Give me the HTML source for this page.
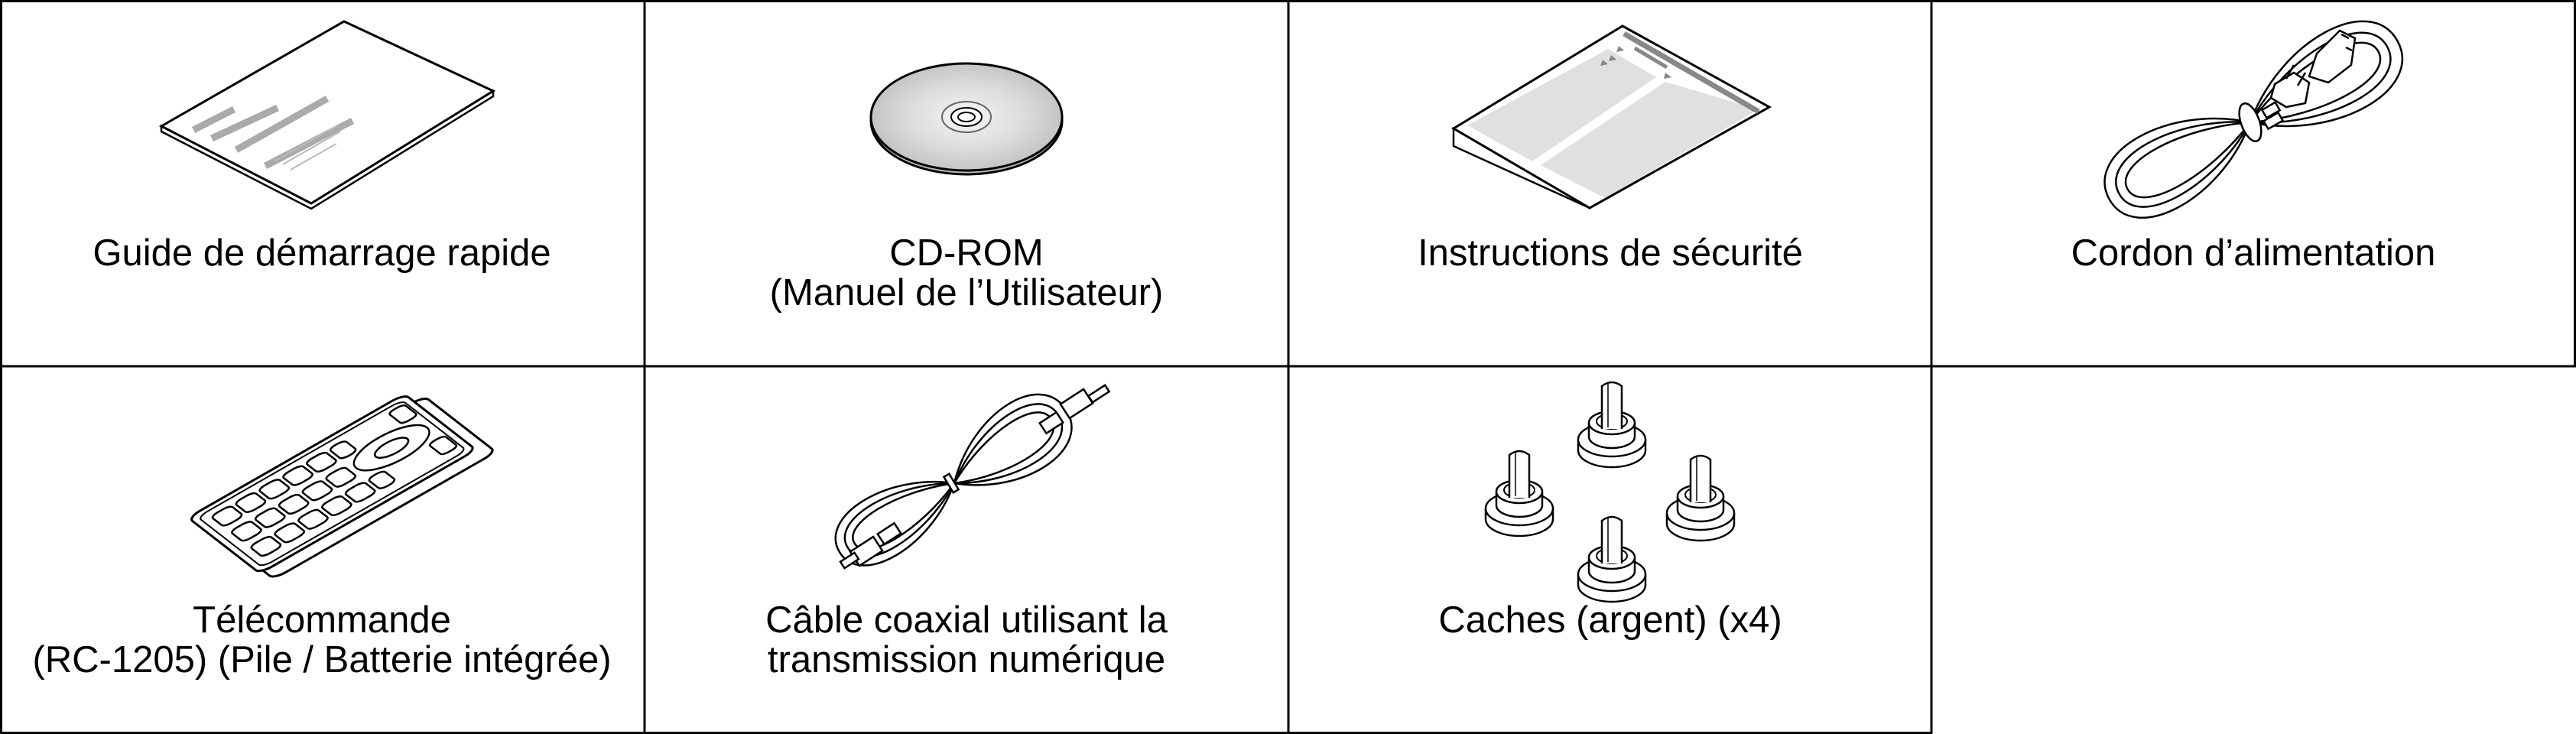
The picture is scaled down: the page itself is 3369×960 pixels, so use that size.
<!DOCTYPE html>
<html><head><meta charset="utf-8"><style>
html,body{margin:0;padding:0;background:#fff}
svg{display:block}
text{font-family:"Liberation Sans",Arial,sans-serif;font-size:49px;fill:#000}
</style></head><body>
<svg width="3369" height="960" viewBox="0 0 3369 960" xmlns="http://www.w3.org/2000/svg">
<defs>
<radialGradient id="cd" cx="50%" cy="50%" r="50%">
<stop offset="0" stop-color="#f4f4f4"/><stop offset="0.6" stop-color="#dcdcdc"/><stop offset="1" stop-color="#c4c4c4"/>
</radialGradient>
<g id="cache">
<path d="M-44,18 L-44,32 A44,22 0 0 0 44,32 L44,18" fill="#fff" stroke="#000" stroke-width="2.5"/>
<ellipse cx="0" cy="18" rx="44" ry="22" fill="#fff" stroke="#000" stroke-width="2.5"/>
<path d="M-30,-4 L-30,14 A30,15 0 0 0 30,14 L30,-4" fill="#fff" stroke="#000" stroke-width="2.5"/>
<ellipse cx="0" cy="-4" rx="30" ry="15" fill="#fff" stroke="#000" stroke-width="2.5"/>
<ellipse cx="0" cy="-6" rx="20" ry="10" fill="#fff" stroke="#000" stroke-width="2"/>
<path d="M-13,4 L-13,-52 Q0,-62 13,-52 L13,4" fill="#fff" stroke="#000" stroke-width="2.5"/>
<line x1="-5" y1="-55" x2="-5" y2="2" stroke="#000" stroke-width="1.5"/>
</g>
<g id="cloop" fill="none" stroke="#000" stroke-width="2.5">
<path d="M0,0 C-40,-38 -100,-36 -100,0 C-100,36 -40,38 0,0" vector-effect="non-scaling-stroke"/>
<path d="M0,0 C-40,-28 -93,-28 -93,0 C-93,28 -40,28 0,0" vector-effect="non-scaling-stroke"/>
<path d="M0,0 C-40,-20 -87,-20 -87,0 C-87,20 -40,20 0,0" vector-effect="non-scaling-stroke"/>
</g>
</defs>
<rect x="0" y="0" width="3369" height="960" fill="#fff"/>
<!-- grid -->
<g stroke="#000" stroke-width="3" fill="none">
<line x1="1.5" y1="0" x2="1.5" y2="960"/>
<line x1="0" y1="1.5" x2="3369" y2="1.5"/>
<line x1="0" y1="479" x2="3369" y2="479"/>
<line x1="0" y1="958.5" x2="2527" y2="958.5"/>
<line x1="843" y1="0" x2="843" y2="960"/>
<line x1="1685" y1="0" x2="1685" y2="960"/>
<line x1="2526" y1="0" x2="2526" y2="960"/>
<line x1="3367.5" y1="0" x2="3367.5" y2="479"/>
</g>

<!-- booklet -->
<polygon points="211,172 407,273 645,126 645,119 407,266 211,165" fill="#fff" stroke="#000" stroke-width="2.5"/>
<polygon points="450,28 645,119 407,266 211,165" fill="#fff" stroke="#000" stroke-width="3"/>
<g stroke="#aaa" stroke-width="9">
<line x1="253" y1="170" x2="306" y2="143"/>
<line x1="277" y1="181" x2="363" y2="141"/>
<line x1="309" y1="196" x2="428" y2="129"/>
<line x1="347" y1="217" x2="461" y2="158"/>
</g>
<g stroke="#bbb" stroke-width="2">
<line x1="360" y1="210" x2="440" y2="165"/>
<line x1="370" y1="215" x2="445" y2="172"/>
<line x1="380" y1="222" x2="440" y2="188"/>
</g>

<!-- CD -->
<ellipse cx="1264" cy="158" rx="125" ry="70" fill="#b8b8b8" stroke="#000" stroke-width="3"/>
<ellipse cx="1264" cy="153" rx="125" ry="70" fill="url(#cd)" stroke="#000" stroke-width="3"/>
<ellipse cx="1264" cy="153" rx="32" ry="20" fill="#eee" stroke="#666" stroke-width="2"/>
<ellipse cx="1264" cy="153" rx="20" ry="12" fill="#fff" stroke="#000" stroke-width="2"/>
<ellipse cx="1264" cy="153" rx="11" ry="6" fill="#fff" stroke="#000" stroke-width="2"/>

<!-- safety sheets -->
<polygon points="1901,168 1901,191 2079,272" fill="#fff" stroke="#000" stroke-width="2.5"/>
<polygon points="2122,34 2314,140 2079,272 1901,168" fill="#fff" stroke="#000" stroke-width="3"/>
<polygon points="2103,64 2166,101 2004,211 1919,164" fill="#e0e0e0"/>
<polygon points="2178,107 2300,143 2099,259 2015,216" fill="#e0e0e0"/>
<line x1="2124" y1="44" x2="2300" y2="146" stroke="#888" stroke-width="7"/>
<line x1="2138" y1="63" x2="2180" y2="88" stroke="#888" stroke-width="5"/>
<g fill="#888"><polygon points="2107,72 2114,78 2104,80"/><polygon points="2096,78 2103,84 2093,86"/><polygon points="2117,60 2124,66 2114,68"/><polygon points="2178,95 2186,101 2176,103"/></g>

<!-- power cord -->
<use href="#cloop" transform="translate(2943,160) rotate(-28.5) scale(2.1,1.9)"/>
<use href="#cloop" transform="translate(2943,160) rotate(151) scale(2.2,2.0)"/>
<g fill="#fff" stroke="#000" stroke-width="2.5">
<ellipse cx="2943" cy="160" rx="12" ry="26" transform="rotate(-20 2943 160)"/>
<path d="M3030,70 L3060,40 L3080,50 L3075,85 L3045,108 L3020,100 Z"/>
<path d="M3062,45 L3072,50 M3068,62 L3076,66" fill="none"/>
<path d="M2975,110 L3000,95 L3020,108 L3015,135 L2990,140 L2970,128 Z"/>
<line x1="2990" y1="103" x2="3000" y2="85"/>
<line x1="3005" y1="112" x2="3015" y2="95"/>
<rect x="2960" y="138" width="20" height="12" transform="rotate(-30 2970 144)"/>
<rect x="2962" y="152" width="22" height="12" transform="rotate(-30 2973 158)"/>
</g>

<!-- remote -->
<g transform="matrix(257,-147,94,73,246,677)">
<rect x="0.02" y="0.14" width="1.13" height="1.0" rx="0.06" fill="#fff" stroke="#000" stroke-width="3" vector-effect="non-scaling-stroke"/>
<rect x="0" y="0" width="1.1" height="1.0" rx="0.06" fill="#fff" stroke="#000" stroke-width="3" vector-effect="non-scaling-stroke"/>
<rect x="0.03" y="0.05" width="1.04" height="0.9" rx="0.05" fill="none" stroke="#000" stroke-width="2" vector-effect="non-scaling-stroke"/>
<g fill="#fff" stroke="#000" stroke-width="2.5">
<rect x="0.07" y="0.12" width="0.1" height="0.19" rx="0.035" vector-effect="non-scaling-stroke"/>
<rect x="0.07" y="0.39" width="0.1" height="0.19" rx="0.035" vector-effect="non-scaling-stroke"/>
<rect x="0.07" y="0.66" width="0.1" height="0.19" rx="0.035" vector-effect="non-scaling-stroke"/>
<rect x="0.19" y="0.12" width="0.1" height="0.19" rx="0.035" vector-effect="non-scaling-stroke"/>
<rect x="0.19" y="0.39" width="0.1" height="0.19" rx="0.035" vector-effect="non-scaling-stroke"/>
<rect x="0.19" y="0.66" width="0.1" height="0.19" rx="0.035" vector-effect="non-scaling-stroke"/>
<rect x="0.31" y="0.12" width="0.1" height="0.19" rx="0.035" vector-effect="non-scaling-stroke"/>
<rect x="0.31" y="0.39" width="0.1" height="0.19" rx="0.035" vector-effect="non-scaling-stroke"/>
<rect x="0.31" y="0.66" width="0.1" height="0.19" rx="0.035" vector-effect="non-scaling-stroke"/>
<rect x="0.43" y="0.12" width="0.1" height="0.19" rx="0.035" vector-effect="non-scaling-stroke"/>
<rect x="0.43" y="0.39" width="0.1" height="0.19" rx="0.035" vector-effect="non-scaling-stroke"/>
<rect x="0.43" y="0.66" width="0.1" height="0.19" rx="0.035" vector-effect="non-scaling-stroke"/>
<rect x="0.55" y="0.12" width="0.1" height="0.19" rx="0.035" vector-effect="non-scaling-stroke"/>
<rect x="0.55" y="0.39" width="0.1" height="0.19" rx="0.035" vector-effect="non-scaling-stroke"/>
<rect x="0.55" y="0.66" width="0.1" height="0.19" rx="0.035" vector-effect="non-scaling-stroke"/>
<rect x="0.67" y="0.12" width="0.08" height="0.19" rx="0.035" vector-effect="non-scaling-stroke"/>
<rect x="0.67" y="0.66" width="0.08" height="0.19" rx="0.035" vector-effect="non-scaling-stroke"/>
<circle cx="0.86" cy="0.48" r="0.18" vector-effect="non-scaling-stroke"/>
<circle cx="0.86" cy="0.48" r="0.08" vector-effect="non-scaling-stroke"/>
<rect x="0.98" y="0.1" width="0.08" height="0.2" rx="0.03" vector-effect="non-scaling-stroke"/>
<rect x="0.98" y="0.66" width="0.08" height="0.2" rx="0.03" vector-effect="non-scaling-stroke"/>
</g>
</g>

<!-- coax cable -->
<use href="#cloop" transform="translate(1248,632) rotate(-31) scale(1.75,1.5)"/>
<use href="#cloop" transform="translate(1248,632) rotate(146.5) scale(1.75,1.7)"/>
<g fill="#fff" stroke="#000" stroke-width="2.5">
<rect x="1240" y="620" width="8" height="24" transform="rotate(-31 1244 632)"/>
<rect x="1390" y="517" width="36" height="22" transform="rotate(-33 1408 528)"/>
<rect x="1424" y="510" width="26" height="10" transform="rotate(-33 1437 515)"/>
<rect x="1362" y="545" width="26" height="16" transform="rotate(-33 1375 553)"/>
<rect x="1115" y="710" width="36" height="22" transform="rotate(-33 1133 721)"/>
<rect x="1100" y="728" width="22" height="10" transform="rotate(-33 1111 733)"/>
<rect x="1150" y="690" width="26" height="16" transform="rotate(-33 1163 698)"/>
</g>

<!-- caches -->
<use href="#cache" x="2108" y="557"/>
<use href="#cache" x="1987" y="647"/>
<use href="#cache" x="2224" y="653"/>
<use href="#cache" x="2108" y="733"/>

<!-- labels -->
<g text-anchor="middle">
<text x="421" y="347">Guide de démarrage rapide</text>
<text x="1264" y="347">CD-ROM</text>
<text x="1264" y="399">(Manuel de l’Utilisateur)</text>
<text x="2106" y="347">Instructions de sécurité</text>
<text x="2947" y="347">Cordon d’alimentation</text>
<text x="421" y="827">Télécommande</text>
<text x="421" y="879">(RC-1205) (Pile / Batterie intégrée)</text>
<text x="1264" y="827">Câble coaxial utilisant la</text>
<text x="1264" y="879">transmission numérique</text>
<text x="2106" y="827">Caches (argent) (x4)</text>
</g>
</svg>
</body></html>
